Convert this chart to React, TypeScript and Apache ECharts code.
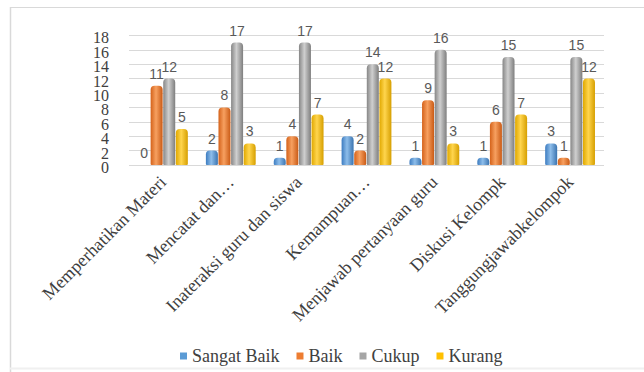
import React, { useEffect, useRef } from "react";
import * as echarts from "echarts";

const categories = [
  "Memperhatikan Materi",
  "Mencatat dan…",
  "Inateraksi guru dan siswa",
  "Kemampuan…",
  "Menjawab pertanyaan guru",
  "Diskusi Kelompk",
  "Tanggungjawabkelompok",
];
const sangatBaik = [0, 2, 1, 4, 1, 1, 3];
const baik = [11, 8, 4, 2, 9, 6, 1];
const cukup = [12, 17, 17, 14, 16, 15, 15];
const kurang = [5, 3, 7, 12, 3, 7, 12];
const seriesNames = ["Sangat Baik", "Baik", "Cukup", "Kurang"];
const seriesColors = [
  ["#3d7cc0", "#8dbdea", "#3b74b0"],
  ["#d4621a", "#f7a060", "#c95a15"],
  ["#868686", "#cfcfcf", "#7e7e7e"],
  ["#e0a800", "#ffd54d", "#d69f00"],
];
const yTicks = { min: 0, max: 18, interval: 2 };
const yLabelsA = [0, 4, 8, 12, 16];
const yLabelsB = [2, 6, 10, 14, 18];

const SERIF = "Liberation Serif";

export default function App() {
  const ref = useRef<HTMLDivElement>(null);
  useEffect(() => {
    if (!ref.current) return;
    const chart = echarts.init(ref.current, undefined, { renderer: "svg" });
    const dataSets = [sangatBaik, baik, cukup, kurang];
    const flat = ["#5B9BD5", "#ED7D31", "#A5A5A5", "#FFC000"];
    const yLabelStyle = (vals: number[]) => ({
      margin: 20,
      customValues: vals,
      showMinLabel: true,
      showMaxLabel: true,
      hideOverlap: false,
      formatter: (v: number) => `{n|${v}}`,
      rich: {
        n: {
          fontFamily: SERIF,
          fontSize: 16,
          lineHeight: 12,
          height: 12,
          color: "#404040",
          padding: [5, 0, 0, 0],
        },
      },
    });
    chart.setOption({
      animation: false,
      backgroundColor: "#ffffff",
      textStyle: { fontFamily: SERIF },
      grid: { left: 129, right: 40, top: 35.4, bottom: 207 },
      legend: {
        data: seriesNames.map((n, i) => ({ name: n, itemStyle: { color: flat[i] } })),
        left: 175,
        top: 342,
        icon: "rect",
        itemWidth: 7,
        itemHeight: 7,
        itemGap: 17,
        textStyle: { fontFamily: SERIF, fontSize: 18, color: "#404040" },
      },
      xAxis: {
        type: "category",
        data: categories,
        axisLine: { show: false },
        axisTick: { show: false },
        axisLabel: {
          rotate: 45,
          interval: 0,
          margin: 14,
          fontFamily: SERIF,
          fontSize: 18,
          color: "#404040",
        },
      },
      yAxis: [
        {
          type: "value",
          min: yTicks.min,
          max: yTicks.max,
          interval: yTicks.interval,
          position: "left",
          axisLine: { show: false },
          axisTick: { show: false },
          splitLine: { lineStyle: { color: "#d9d9d9", width: 1 } },
          axisLabel: yLabelStyle(yLabelsA),
        },
        {
          type: "value",
          min: yTicks.min,
          max: yTicks.max,
          interval: yTicks.interval,
          position: "left",
          offset: 0,
          axisLine: { show: false },
          axisTick: { show: false },
          splitLine: { show: false },
          axisLabel: yLabelStyle(yLabelsB),
        },
      ],
      series: dataSets.map((d, i) => ({
        name: seriesNames[i],
        type: "bar",
        yAxisIndex: 0,
        data: d,
        barWidth: 12,
        barGap: "5%",
        itemStyle: {
          borderRadius: [4, 4, 1, 1],
          color: new echarts.graphic.LinearGradient(0, 0, 1, 0, [
            { offset: 0, color: seriesColors[i][0] },
            { offset: 0.45, color: seriesColors[i][1] },
            { offset: 1, color: seriesColors[i][2] },
          ]),
        },
        label: {
          show: true,
          position: "top",
          distance: 5,
          fontFamily: "Liberation Sans",
          fontSize: 14,
          color: "#595959",
        },
      })),
      graphic: [
        { type: "line", shape: { x1: 10, y1: 7.5, x2: 644, y2: 7.5 }, style: { stroke: "#d9d9d9", lineWidth: 1 } },
        { type: "line", shape: { x1: 10.5, y1: 7, x2: 10.5, y2: 372 }, style: { stroke: "#d9d9d9", lineWidth: 1.5 } },
        { type: "line", shape: { x1: 10, y1: 368.5, x2: 644, y2: 368.5 }, style: { stroke: "#f0f0f0", lineWidth: 2 } },
      ],
    });
    return () => chart.dispose();
  }, []);
  return (
    <div
      ref={ref}
      style={{ position: "fixed", left: 0, top: 0, width: 644, height: 372 }}
    />
  );
}
